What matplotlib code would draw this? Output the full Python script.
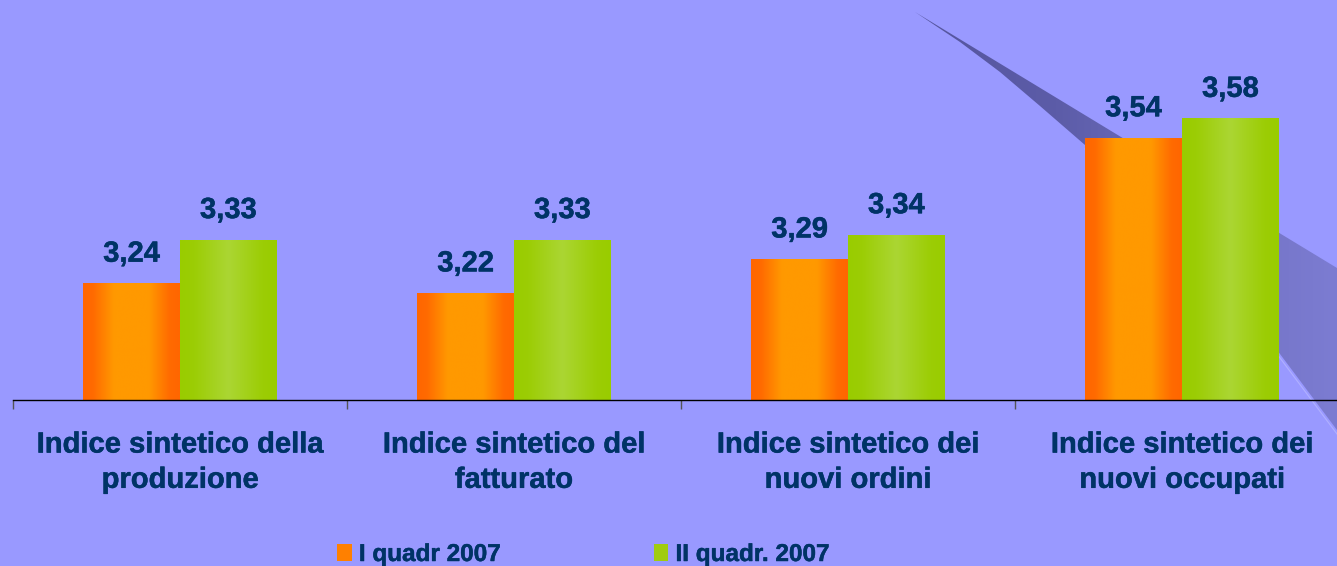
import matplotlib.pyplot as plt
import numpy as np
from matplotlib.colors import LinearSegmentedColormap
from matplotlib.patches import Polygon
import matplotlib.patheffects as pe

plt.rcParams['font.family'] = ['Liberation Sans', 'DejaVu Sans']
plt.rcParams['font.weight'] = 'bold'

categories = ['Indice sintetico della\nproduzione',
              'Indice sintetico del\nfatturato',
              'Indice sintetico dei\nnuovi ordini',
              'Indice sintetico dei\nnuovi occupati']
serie_1 = [3.24, 3.22, 3.29, 3.54]
serie_2 = [3.33, 3.33, 3.34, 3.58]
labels_1 = ['3,24', '3,22', '3,29', '3,54']
labels_2 = ['3,33', '3,33', '3,34', '3,58']
legend_names = ['I quadr 2007', 'II quadr. 2007']

BG = '#9999FF'
TXT = '#003366'
W, H = 1337, 566
YMIN, YMAX = 3.0, 3.825
heavy = [pe.withStroke(linewidth=0.35, foreground=TXT)]

fig = plt.figure(figsize=(W / 100, H / 100), dpi=100, facecolor=BG)

# sfondo con l'ombra diagonale (solo decorazione)
bg = fig.add_axes([0, 0, 1, 1], zorder=0)
bg.set_xlim(0, W)
bg.set_ylim(H, 0)
bg.axis('off')
upper = [(915, 12), (1337, 268)]
lower = [(1337, 430), (1277, 350), (1230, 298), (1180, 245), (1130, 192), (1085, 145),
         (1040, 106), (1000, 72), (960, 42), (915, 12)]
poly = Polygon(upper + lower, closed=True, facecolor='none', edgecolor='none')
bg.add_patch(poly)
shade = LinearSegmentedColormap.from_list('shade', ['#55559E', '#5C5CA8', '#7070C0', '#7C7CD2'])
grad = np.linspace(0, 1, 256)[np.newaxis, :]
im = bg.imshow(grad, extent=[915, 1337, 430, 12], aspect='auto', cmap=shade,
               interpolation='bicubic')
im.set_clip_path(poly)
bg.plot([1085, 1180, 1277, 1337], [149, 249, 354, 434], color='#B0B0FF', lw=0.8)
bg.set_xlim(0, W)
bg.set_ylim(H, 0)

# grafico principale
ax = fig.add_axes([13 / W, 166 / H, 1336 / W, 400 / H], zorder=1)
ax.patch.set_alpha(0)

x = np.arange(len(categories))
bw = 0.29
b1 = ax.bar(x - bw / 2, serie_1, bw, color='#FF8000', label=legend_names[0], zorder=2)
b2 = ax.bar(x + bw / 2, serie_2, bw, color='#A0CC10', label=legend_names[1], zorder=2)

cm_or = LinearSegmentedColormap.from_list(
    'or', [(0, '#FF6600'), (0.1, '#FF6A00'), (0.32, '#FF9900'), (0.68, '#FF9900'),
           (0.9, '#FF6A00'), (1, '#FF6600')])
cm_gr = LinearSegmentedColormap.from_list(
    'gr', [(0, '#99CC00'), (0.15, '#9CCD05'), (0.5, '#ABD633'), (0.85, '#9CCD05'),
           (1, '#99CC00')])

for bars, cmap in ((b1, cm_or), (b2, cm_gr)):
    for r in bars:
        x0, w, h = r.get_x(), r.get_width(), r.get_height()
        ax.imshow(grad, extent=[x0, x0 + w, YMIN, h], aspect='auto', cmap=cmap,
                  interpolation='bicubic', zorder=3)

for bars, labs in ((b1, labels_1), (b2, labels_2)):
    for r, t in zip(bars, labs):
        ax.annotate(t, (r.get_x() + r.get_width() / 2, r.get_height()),
                    xytext=(0, 15.8), textcoords='offset points',
                    ha='center', va='baseline', fontsize=21, fontweight='bold',
                    color=TXT, zorder=4, path_effects=heavy)

ax.set_xlim(-0.5, 3.5)
ax.set_ylim(YMIN, YMAX)

for s in ('top', 'right', 'left'):
    ax.spines[s].set_visible(False)
ax.spines['bottom'].set_color('black')
ax.spines['bottom'].set_linewidth(1.0)
ax.spines['bottom'].set_zorder(5)
ax.set_yticks([])

ax.set_xticks(x)
ax.set_xticklabels(categories, fontsize=21, fontweight='bold', color=TXT, linespacing=1.33,
                   path_effects=heavy)
ax.tick_params(axis='x', which='major', length=0, pad=22)
ax.set_xticks([-0.5, 0.5, 1.5, 2.5], minor=True)
ax.tick_params(axis='x', which='minor', length=6.5, width=1, color='#555555', direction='out')

leg = ax.legend(handles=[b1, b2], loc='lower left', bbox_to_anchor=(337 / W, 0.0),
                bbox_transform=fig.transFigure, ncol=2, frameon=False,
                prop={'size': 17.5, 'weight': 'bold'},
                handlelength=0.6, handleheight=0.65, handletextpad=0.3,
                columnspacing=6.3, borderpad=0, borderaxespad=0)
for t in leg.get_texts():
    t.set_color(TXT)
    t.set_path_effects(heavy)

fig.savefig('out.png', dpi=100, facecolor=BG)
